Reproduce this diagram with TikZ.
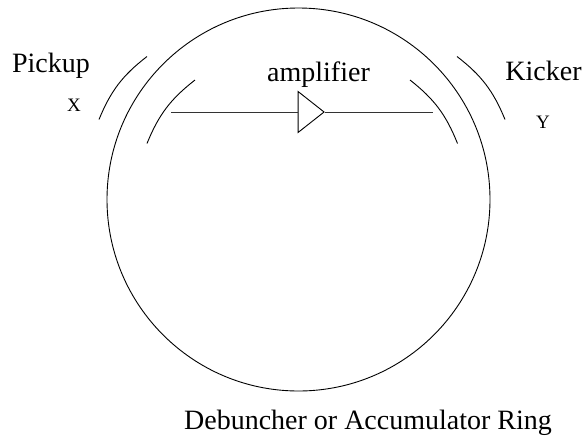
\documentclass[tikz,border=0pt]{standalone}
\usepackage{fontspec}
\setmainfont{Liberation Serif}
\usetikzlibrary{shapes.geometric, positioning}

\begin{document}
\begin{tikzpicture}[
    x=1pt, y=-1pt,
    label/.style={anchor=base, inner sep=0pt, font=\fontsize{28}{30}\selectfont},
    plane/.style={anchor=base, inner sep=0pt, font=\fontsize{19}{22}\selectfont},
    ring/.style={circle, draw, line width=0.9pt, minimum size=383pt, inner sep=0pt},
    amp/.style={isosceles triangle, isosceles triangle apex angle=75, isosceles triangle stretches, draw, line width=0.9pt, minimum width=41pt, minimum height=26pt, inner sep=0pt},
    plate/.style={line width=0.9pt},
    wire/.style={line width=1pt, color=black!80}
]
    \useasboundingbox (0,0) rectangle (584,437);

    % Ring
    \node (R) [ring] at (298.5,199.5) {};

    % Pickup and kicker plates
    \coordinate (P1a) at (99,119.5);
    \coordinate (P1b) at (147,56.5);
    \coordinate (P2a) at (147,143.5);
    \coordinate (P2b) at (195,80);
    \coordinate (K1a) at (457,56.5);
    \coordinate (K1b) at (505,119.5);
    \coordinate (K2a) at (410,80);
    \coordinate (K2b) at (457.5,143.5);
    \draw [plate] (P1a) to[bend left=15] (P1b);
    \draw [plate] (P2a) to[bend left=15] (P2b);
    \draw [plate] (K1a) to[bend left=15] (K1b);
    \draw [plate] (K2a) to[bend left=15] (K2b);

    % Amplifier and its line
    \node (A) [amp] at (308,112) {};
    \coordinate (Lin) at (171,112);
    \coordinate (Lout) at (433,112);
    \draw [wire] (Lin) -- (A.west);
    \draw [wire] (A.east) -- (Lout);

    % Labels
    \node (pickup) [label] at (51,72) {Pickup};
    \node (amplifier) [label] at (318.5,81) {amplifier};
    \node (kicker) [label] at (543.5,80) {Kicker};
    \node (X) [plane] at (74,111.5) {X};
    \node (Y) [plane] at (543,128) {Y};
    \node (ringname) [label] at (368,429) {Debuncher or Accumulator Ring};
\end{tikzpicture}
\end{document}
